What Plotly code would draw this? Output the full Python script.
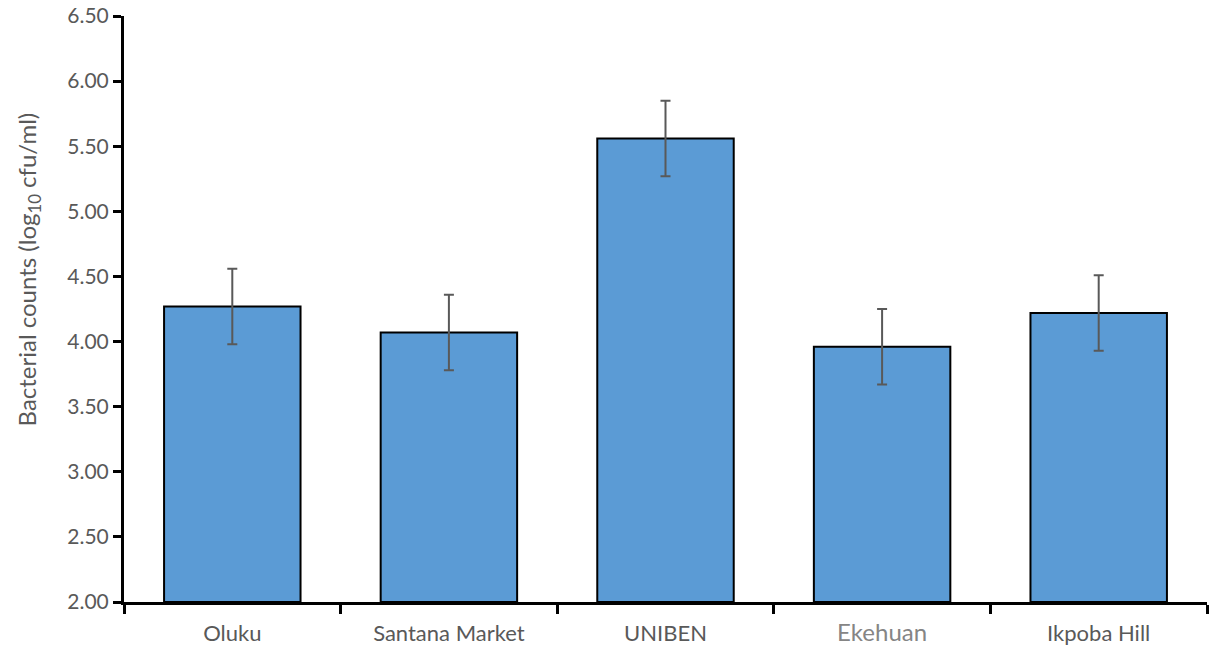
import plotly.graph_objects as go

categories = ["Oluku", "Santana Market", "UNIBEN", "Ekehuan", "Ikpoba Hill"]
counts = [4.27, 4.07, 5.56, 3.96, 4.22]
errors = [0.29, 0.29, 0.29, 0.29, 0.29]
y_tick_vals = [2.0, 2.5, 3.0, 3.5, 4.0, 4.5, 5.0, 5.5, 6.0, 6.5]
y_tick_text = ["2.00", "2.50", "3.00", "3.50", "4.00", "4.50", "5.00", "5.50", "6.00", "6.50"]
x_tick_text = ["Oluku", "Santana Market", "UNIBEN",
               '<span style="color:#858585;font-size:24px">Ekehuan</span>', "Ikpoba Hill"]
y_title = "Bacterial counts (log<sub>10</sub> cfu/ml)"

fig = go.Figure()
fig.add_trace(go.Bar(
    x=categories, y=[c - 2.0 for c in counts], base=2.0,
    marker=dict(color="#5B9BD5", line=dict(color="black", width=2)),
    width=0.63,
    error_y=dict(type="data", array=errors, color="#595959", thickness=2, width=5),
))

fig.update_layout(
    width=1209, height=650,
    margin=dict(l=124, r=2, t=16, b=48),
    plot_bgcolor="white", paper_bgcolor="white",
    font=dict(family="Lato, Carlito, sans-serif", color="#595959"),
    showlegend=False,
    bargap=0.37,
)
fig.add_annotation(
    text=y_title, xref="paper", yref="paper", x=-0.088, y=0.567,
    xanchor="center", yanchor="middle", textangle=-90, showarrow=False,
    font=dict(size=24, color="#595959"),
)
fig.update_xaxes(
    tickvals=categories, ticktext=x_tick_text,
    showline=True, linecolor="black", linewidth=3,
    ticks="outside", tickson="boundaries", ticklen=9, tickwidth=3, tickcolor="black",
    tickfont=dict(size=22, color="#595959"),
    ticklabelstandoff=10,
    showgrid=False, zeroline=False,
)
fig.update_yaxes(
    range=[2.0, 6.5], tickvals=y_tick_vals, ticktext=y_tick_text,
    showline=True, linecolor="black", linewidth=3,
    ticks="outside", ticklen=8, tickwidth=3, tickcolor="black",
    tickfont=dict(size=21, color="#595959"),
    showgrid=False, zeroline=False,
)

fig.write_html("out.html")
